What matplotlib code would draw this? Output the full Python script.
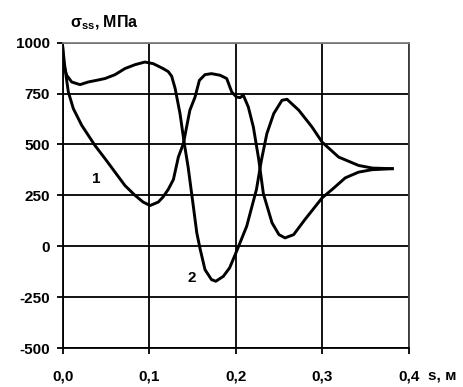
import numpy as np
import matplotlib
matplotlib.use('Agg')
import matplotlib.pyplot as plt

# Кривая 1
s1 = [0.0, 0.0027, 0.0065, 0.0123, 0.022, 0.0296, 0.0373, 0.049, 0.0605, 0.072,
      0.0836, 0.093, 0.101, 0.1105, 0.116, 0.122, 0.128, 0.1337, 0.1395, 0.147,
      0.153, 0.158, 0.1645, 0.172, 0.182, 0.1896, 0.1954, 0.201, 0.205, 0.2088,
      0.2146, 0.2204, 0.2265, 0.232, 0.242, 0.25, 0.257, 0.267, 0.28, 0.3,
      0.3115, 0.3267, 0.342, 0.3576, 0.381]
sig1 = [977, 873, 758, 676, 594, 545, 495, 430, 364, 298,
        250, 217, 200, 217, 242, 279, 328, 438, 504, 668,
        733, 815, 843, 848, 840, 824, 758, 733, 730, 742,
        684, 586, 430, 258, 115, 57, 41, 57, 131, 238,
        279, 336, 364, 376, 381]

# Кривая 2
s2 = [0.0, 0.0007, 0.0046, 0.0104, 0.02, 0.0296, 0.039, 0.049, 0.0605, 0.072,
      0.0836, 0.095, 0.1047, 0.116, 0.122, 0.126, 0.13, 0.1356, 0.1406, 0.145,
      0.151, 0.155, 0.159, 0.1645, 0.172, 0.177, 0.1857, 0.193, 0.201, 0.2127,
      0.224, 0.2296, 0.236, 0.244, 0.2535, 0.2593, 0.273, 0.288, 0.3, 0.319,
      0.342, 0.358, 0.381]
sig2 = [977, 903, 840, 807, 794, 807, 815, 824, 843, 873,
        892, 905, 897, 873, 858, 835, 775, 652, 504, 389,
        197, 66, -16, -115, -164, -172, -148, -106, -25, 98,
        279, 420, 553, 652, 717, 722, 668, 587, 511, 438,
        397, 384, 381]

xticks = [0.0, 0.1, 0.2, 0.3, 0.4]
xlabels = ['0,0', '0,1', '0,2', '0,3', '0,4']
yticks = [-500, -250, 0, 250, 500, 750, 1000]
ylabels = ['-500', '-250', '0', '250', '500', '750', '1000']

plt.rcParams['font.family'] = ['Liberation Sans', 'DejaVu Sans']
plt.rcParams['font.weight'] = 'bold'
plt.rcParams['mathtext.fontset'] = 'custom'
plt.rcParams['mathtext.rm'] = 'Liberation Sans:bold'
plt.rcParams['mathtext.bf'] = 'Liberation Sans:bold'
plt.rcParams['mathtext.it'] = 'Liberation Sans:bold'

fig = plt.figure(figsize=(4.64, 3.87), dpi=100)
ax = fig.add_axes([62.7 / 464, 1 - 348 / 387, 346 / 464, 305.3 / 387])

ax.plot(s1, sig1, color='black', linewidth=2.1, solid_joinstyle='round')
ax.plot(s2, sig2, color='black', linewidth=2.1, solid_joinstyle='round')

ax.set_xlim(0, 0.4)
ax.set_ylim(-500, 1000)
ax.set_xticks(xticks)
ax.set_xticklabels(xlabels)
ax.set_yticks(yticks)
ax.set_yticklabels(ylabels)
ax.grid(True, color='black', linewidth=1.3)
ax.set_axisbelow(True)

ax.tick_params(axis='both', direction='out', length=4.5, width=1.3,
               labelsize=11, colors='black')
ax.tick_params(axis='x', pad=11)
ax.tick_params(axis='y', pad=5)
for lbl in ax.get_xticklabels() + ax.get_yticklabels():
    lbl.set_fontweight('bold')

ax.spines['left'].set_linewidth(1.3)
ax.spines['bottom'].set_linewidth(1.3)
ax.spines['top'].set_color('#808080')
ax.spines['top'].set_linewidth(1.3)
ax.spines['right'].set_color('#404040')
ax.spines['right'].set_linewidth(1.3)

ax.text(0.039, 332, '1', fontsize=11, fontweight='bold', ha='center', va='center')
ax.text(0.149, -156, '2', fontsize=11, fontweight='bold', ha='center', va='center')

fig.text(70 / 464, 1 - 27.5 / 387, r'$\mathrm{σ}_{\mathrm{ss}}$, МПа',
         fontsize=11.5, fontweight='bold', ha='left', va='baseline')
fig.text(428 / 464, 1 - 375 / 387, 's, м', fontsize=11, fontweight='bold',
         ha='left', va='center')

fig.savefig('out.png', dpi=100)
